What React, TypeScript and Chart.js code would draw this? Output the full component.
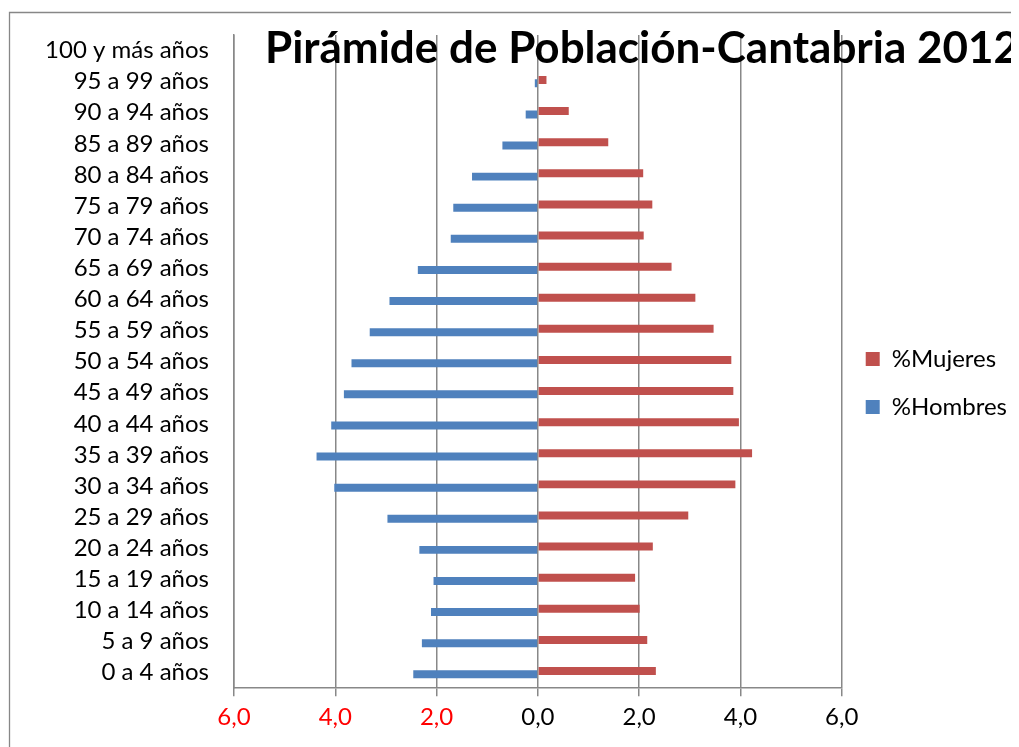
import React, { useEffect, useRef } from 'react';
import { Chart, registerables } from 'chart.js';

Chart.register(...registerables);

const categories = [
  '0 a 4 años', '5 a 9 años', '10 a 14 años', '15 a 19 años', '20 a 24 años',
  '25 a 29 años', '30 a 34 años', '35 a 39 años', '40 a 44 años', '45 a 49 años',
  '50 a 54 años', '55 a 59 años', '60 a 64 años', '65 a 69 años', '70 a 74 años',
  '75 a 79 años', '80 a 84 años', '85 a 89 años', '90 a 94 años', '95 a 99 años',
  '100 y más años',
];

const mujeres = [
  2.33, 2.16, 2.01, 1.92, 2.27, 2.97, 3.90, 4.23, 3.97, 3.86,
  3.82, 3.47, 3.11, 2.64, 2.09, 2.26, 2.08, 1.39, 0.61, 0.17, 0.03,
];

const hombres = [
  2.46, 2.29, 2.11, 2.06, 2.34, 2.97, 4.02, 4.37, 4.08, 3.83,
  3.68, 3.32, 2.93, 2.37, 1.72, 1.67, 1.30, 0.70, 0.24, 0.06, 0.01,
];

const xMin = -6;
const xMax = 6;
const xStep = 2;

const titleText = 'Pirámide de Población-Cantabria 2012';
const seriesNames = ['%Mujeres', '%Hombres'];

const FONT = 'Lato';
const GRID = '#888888';

const W = 1011;
const H = 739;

const framePlugin = {
  id: 'frame',
  beforeDraw(chart: any) {
    const ctx = chart.ctx;
    ctx.save();
    ctx.fillStyle = '#ffffff';
    ctx.fillRect(0, 0, chart.width, chart.height);
    ctx.strokeStyle = '#878787';
    ctx.lineWidth = 1.3;
    ctx.beginPath();
    ctx.moveTo(1.5, chart.height);
    ctx.lineTo(1.5, 4.5);
    ctx.lineTo(chart.width, 4.5);
    ctx.stroke();
    ctx.restore();
  },
};

const titlePlugin = {
  id: 'overlayTitle',
  afterDraw(chart: any) {
    const ctx = chart.ctx;
    ctx.save();
    ctx.font = `bold 44px ${FONT}`;
    ctx.fillStyle = '#000000';
    ctx.textAlign = 'left';
    ctx.textBaseline = 'alphabetic';
    ctx.fillText(titleText, 257, 55);
    ctx.restore();
  },
};

export default function App() {
  const ref = useRef<HTMLCanvasElement | null>(null);

  useEffect(() => {
    if (!ref.current) return;
    const chart = new Chart(ref.current, {
      type: 'bar',
      data: {
        labels: categories,
        datasets: [
          {
            label: seriesNames[0],
            data: mujeres,
            backgroundColor: '#C0504D',
            borderWidth: 0,
            categoryPercentage: 0.212,
            barPercentage: 2.42,
          },
          {
            label: seriesNames[1],
            data: hombres.map((v) => -v),
            backgroundColor: '#4F81BD',
            borderWidth: 0,
            categoryPercentage: 0.212,
            barPercentage: 2.42,
          },
        ],
      },
      options: {
        indexAxis: 'y',
        responsive: false,
        animation: false,
        layout: { padding: { top: 19, bottom: 8, left: 0, right: 2 } },
        plugins: {
          legend: {
            position: 'right',
            labels: {
              boxWidth: 14,
              boxHeight: 14,
              padding: 24,
              color: '#000000',
              font: { family: FONT, size: 24 },
            },
          },
          title: { display: false },
          tooltip: { enabled: false },
        },
        scales: {
          x: {
            type: 'linear',
            min: xMin,
            max: xMax,
            ticks: {
              stepSize: xStep,
              padding: 7,
              font: { family: FONT, size: 24 },
              color: (c: any) => (c.tick && c.tick.value < 0 ? '#FF0000' : '#000000'),
              callback: (v: any) => Math.abs(Number(v)).toFixed(1).replace('.', ','),
            },
            grid: {
              color: GRID,
              lineWidth: 1.5,
              drawTicks: true,
              tickLength: 8,
              tickColor: GRID,
            },
            border: { display: true, color: GRID, width: 1.5 },
          },
          y: {
            type: 'category',
            reverse: true,
            grid: { display: false, drawTicks: false },
            border: { display: true, color: GRID, width: 1.5 },
            ticks: {
              padding: 25,
              font: { family: FONT, size: 24 },
              color: '#000000',
              autoSkip: false,
            },
            afterFit: (scale: any) => {
              scale.width = 226;
              scale.paddingTop = 27;
              scale.paddingBottom = 0;
            },
          },
        },
      },
      plugins: [framePlugin, titlePlugin],
    });
    return () => chart.destroy();
  }, []);

  return (
    <div style={{ width: W, height: H }}>
      <canvas ref={ref} width={W} height={H} style={{ display: 'block' }} />
    </div>
  );
}
